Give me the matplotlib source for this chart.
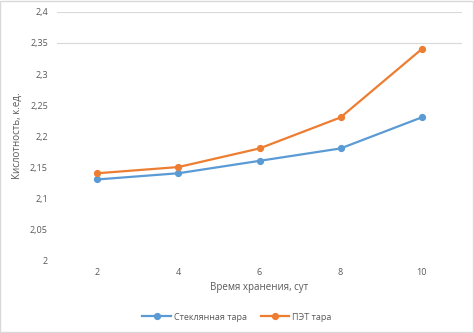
import matplotlib
matplotlib.use("Agg")
import matplotlib.pyplot as plt

days = ["2", "4", "6", "8", "10"]
glass = [2.13, 2.14, 2.16, 2.18, 2.23]
pet = [2.14, 2.15, 2.18, 2.23, 2.34]
yticks = [2.0, 2.05, 2.1, 2.15, 2.2, 2.25, 2.3, 2.35, 2.4]
ytick_labels = ["2", "2,05", "2,1", "2,15", "2,2", "2,25", "2,3", "2,35", "2,4"]
grid_levels = [2.35, 2.4]

plt.rcParams['font.family'] = ['Open Sans', 'DejaVu Sans']
tc = '#595959'

fig = plt.figure(figsize=(4.74, 3.33), dpi=100)
ax = fig.add_axes([0.120, 0.219, 0.855, 0.745])
x = list(range(len(days)))
ax.plot(x, glass, color='#5B9BD5', lw=1.6, marker='o', ms=4.2, label='Стеклянная тара', zorder=3)
ax.plot(x, pet, color='#ED7D31', lw=1.6, marker='o', ms=4.2, label='ПЭТ тара', zorder=3)
for g in grid_levels:
    ax.axhline(g, color='#D9D9D9', lw=0.8, zorder=1)
ax.set_xlim(-0.5, len(days) - 0.5)
ax.set_ylim(2.0, 2.4)
ax.set_xticks(x)
ax.set_xticklabels(days)
ax.set_yticks(yticks)
ax.set_yticklabels(ytick_labels)
for s in ax.spines.values():
    s.set_visible(False)
ax.tick_params(length=0, labelsize=6.5, colors=tc, pad=6)
ax.tick_params(axis='y', pad=6.5)
ax.set_xlabel('Время хранения, сут', fontsize=7, color=tc, labelpad=3)
ax.set_ylabel('Кислотность, к.ед.', fontsize=7, color=tc)
ax.yaxis.set_label_coords(-0.085, 0.5)
leg = fig.legend(loc='center', bbox_to_anchor=(0.5, 0.048), ncol=2, frameon=False,
                 fontsize=6.5, handlelength=3.2, columnspacing=1.5, handletextpad=0.3)
for t in leg.get_texts():
    t.set_color(tc)
fig.patches.append(plt.Rectangle((0.001, 0.002), 0.997, 0.995, transform=fig.transFigure,
                                 fill=False, edgecolor='#D9D9D9', lw=1))
fig.savefig('out.png', dpi=100)
